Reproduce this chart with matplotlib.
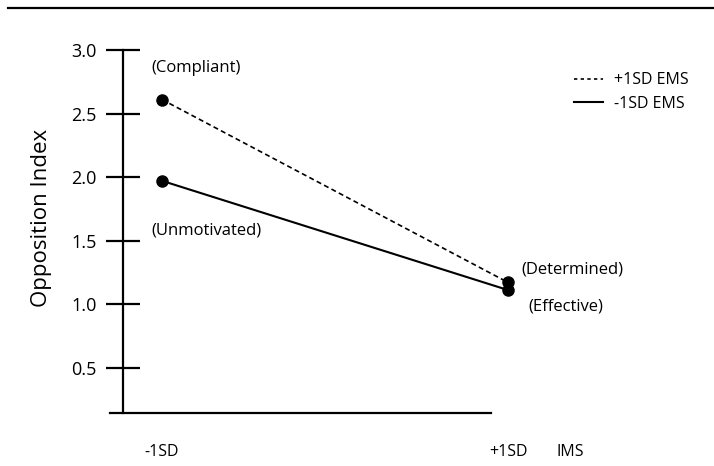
import matplotlib.pyplot as plt
from matplotlib.lines import Line2D

plt.rcParams['font.family'] = ['Open Sans', 'DejaVu Sans']

# IMS levels (x) and Opposition Index per EMS level
ims_levels = ['-1SD', '+1SD']
high_ems = [2.61, 1.17]   # +1SD EMS
low_ems = [1.97, 1.11]    # -1SD EMS
y_ticks = [0.5, 1.0, 1.5, 2.0, 2.5, 3.0]

W, H = 714, 466
fig = plt.figure(figsize=(W / 100, H / 100), dpi=100)

# axes box in pixels: left 123, right 491, top 50, bottom 413
ax = fig.add_axes([123 / W, 1 - 413 / H, (491 - 123) / W, (413 - 50) / H])

x = [0, 1]
ax.plot(x, high_ems, color='black', lw=1.2, ls=(0, (3, 2)),
        marker='o', ms=8, clip_on=False, label='+1SD EMS')
ax.plot(x, low_ems, color='black', lw=1.5, ls='-',
        marker='o', ms=8, clip_on=False, label='-1SD EMS')

for s in ['top', 'right']:
    ax.spines[s].set_visible(False)
ax.spines['left'].set_linewidth(1.6)
ax.spines['bottom'].set_linewidth(1.6)

ax.set_yticks(y_ticks)
ax.set_yticklabels([f'{v:.1f}' for v in y_ticks])
ax.tick_params(axis='y', direction='inout', length=24, width=1.6,
               labelsize=13, pad=7)
ax.set_xticks([])

ax.set_xlim(-39 / 346, 329 / 346)
ax.set_ylim(0.142, 3.0)
ax.spines['bottom'].set_bounds(-52 / 346, 329 / 346)

# IMS level labels (the +1SD one sits past the axis end)
xt = ax.get_xaxis_transform()
for xi, lab in zip(x, ims_levels):
    ax.text(xi, -0.107, lab, transform=xt, ha='center', va='center',
            fontsize=11.5, clip_on=False)
fig.text(556 / W, 1 - 452 / H, 'IMS', ha='left', va='center', fontsize=11.5)

fig.text(42 / W, 1 - 218 / H, 'Opposition Index', rotation=90,
         ha='center', va='center', fontsize=16)

# quadrant labels
ax.text(-0.03, 2.86, '(Compliant)', fontsize=12, ha='left', va='center')
ax.text(-0.03, 1.58, '(Unmotivated)', fontsize=12, ha='left', va='center')
ax.text(1.04, 1.27, '(Determined)', fontsize=12, ha='left', va='center', clip_on=False)
ax.text(1.06, 0.98, '(Effective)', fontsize=12, ha='left', va='center', clip_on=False)

handles = [Line2D([], [], color='black', lw=1.2, ls=(0, (2, 2))),
           Line2D([], [], color='black', lw=1.5)]
fig.legend(handles, ['+1SD EMS', '-1SD EMS'], loc='upper left',
           bbox_to_anchor=(560 / W, 1 - 58 / H), frameon=False,
           fontsize=11.5, handlelength=1.8, handletextpad=0.7,
           labelspacing=0.45)

fig.add_artist(Line2D([8 / W, 1], [1 - 8 / H, 1 - 8 / H], color='black',
                      lw=1.6, transform=fig.transFigure))

fig.savefig('out.png', dpi=100)
